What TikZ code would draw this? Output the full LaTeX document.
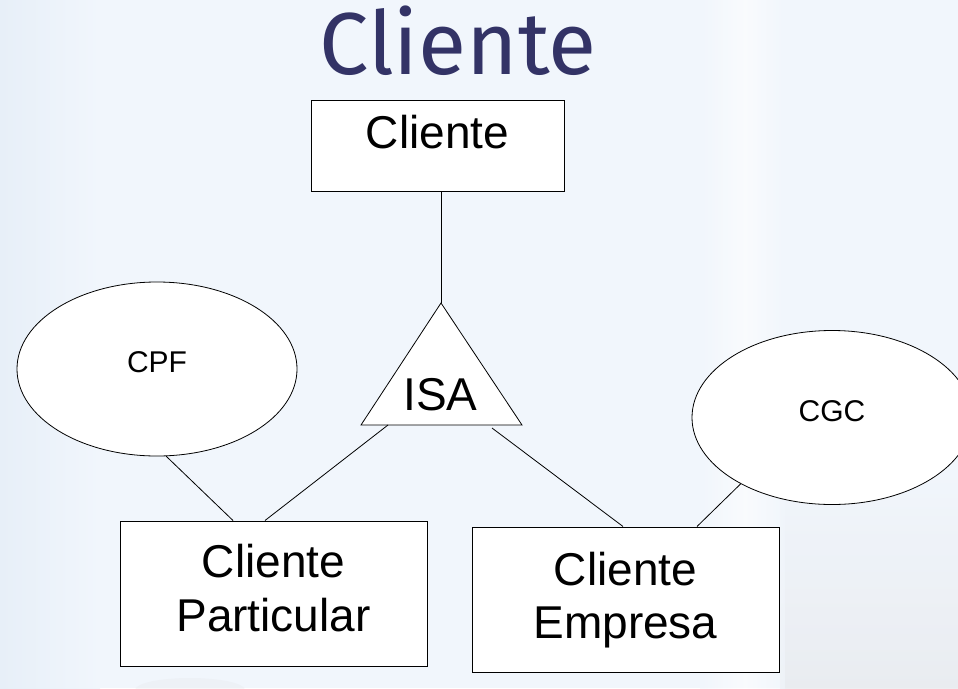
\documentclass[tikz,border=0pt]{standalone}
\usepackage{fontspec}
\setmainfont{Liberation Sans}
\newfontfamily\titlefont{Fira Sans}
\usetikzlibrary{shapes.geometric,calc}
\definecolor{titleblue}{RGB}{51,51,102}
\definecolor{bgblue}{RGB}{241,246,252}
\definecolor{bgedge}{RGB}{231,239,248}
\definecolor{bggrey}{RGB}{232,234,238}
\tikzset{
  entbox/.style={draw=black, fill=white, line width=1pt, inner sep=0pt},
  attr/.style={draw=black, fill=white, ellipse, line width=0.8pt, inner sep=0pt,
    minimum width=280pt, minimum height=174pt, font=\fontsize{30}{30}\selectfont,
    text height=21.5pt, text depth=14pt},
  bigtxt/.style={font=\fontsize{46}{46}\selectfont, inner sep=0pt},
  conn/.style={draw=black, line width=0.8pt}
}
\begin{document}
\begin{tikzpicture}[x=1pt,y=-1pt]
\useasboundingbox (0,0) rectangle (958,688);
\clip (0,0) rectangle (958,688);
% background
\fill[bgblue] (0,0) rectangle (958,688);
\shade[left color=bgedge, right color=bgblue] (0,0) rectangle (100,688);
\shade[top color=bgblue, bottom color=bggrey, opacity=0.8] (780,470) rectangle (958,688);
\shade[left color=bgblue, right color=white, opacity=0.6] (700,0) rectangle (745,688);
\shade[left color=white, right color=bgblue, opacity=0.6] (745,0) rectangle (785,688);
\fill[bggrey, opacity=0.4] (190,690) ellipse (55 and 12);
% title
\node[font=\titlefont\fontsize{88}{88}\selectfont, text=titleblue, anchor=base, inner sep=0pt] (title) at (458,74) {Cliente};
% entities
\node[entbox, minimum width=253pt, minimum height=91pt] (cl) at (437.5,145.5) {};
\node[bigtxt, anchor=base] (clt) at (437.5,148) {Cliente};
\node[entbox, minimum width=307pt, minimum height=145pt] (cp) at (273.5,593.5) {};
\node[bigtxt, anchor=base] (cpt1) at (273.5,577) {Cliente};
\node[bigtxt, anchor=base] (cpt2) at (273.5,631) {Particular};
\node[entbox, minimum width=307pt, minimum height=145pt] (ce) at (625.5,599.5) {};
\node[bigtxt, anchor=base] (cet1) at (625.5,585) {Cliente};
\node[bigtxt, anchor=base] (cet2) at (625.5,638) {Empresa};
% attributes
\node[attr] (cpf) at (157,369) {CPF};
\node[attr] (cgc) at (832,417.5) {CGC};
% ISA triangle
\coordinate (apex) at (441,303);
\coordinate (bl) at (361,425);
\coordinate (br) at (522,425);
\filldraw[fill=white, draw=black, line width=0.8pt, line join=miter] (apex) -- (bl) -- (br) -- cycle;
\node[bigtxt, anchor=base] (isa) at (440.5,410) {ISA};
\coordinate (isaL) at (388,425);
\coordinate (isaR) at (492,428);
% connectors
\draw[conn] (cl.south -| apex) -- (apex);
\draw[conn] (isaL) -- ([xshift=-8.5pt]cp.north);
\draw[conn] (isaR) -- ([xshift=-2.5pt]ce.north);
\draw[conn] (cpf.-84) -- ([xshift=-40.5pt]cp.north);
\draw[conn] (cgc.-144) -- ([xshift=71.5pt]ce.north);
\end{tikzpicture}
\end{document}
